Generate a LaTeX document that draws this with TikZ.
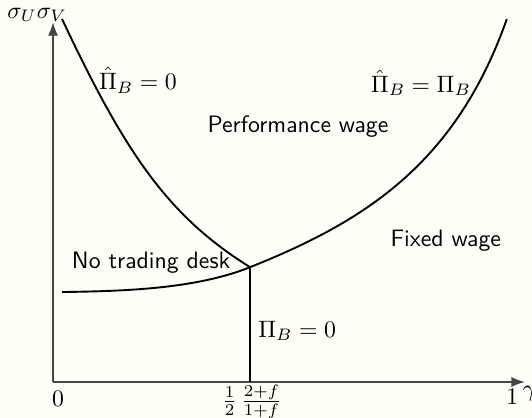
\documentclass[tikz,border=0pt]{standalone}
\usepackage{amsmath,amssymb}
\usepackage{tikz}
\usetikzlibrary{arrows.meta,calc,positioning}
\definecolor{PaperCream}{RGB}{254,254,247}
\definecolor{AxisGray}{RGB}{70,70,70}

\begin{document}
\begin{tikzpicture}[x=6.69cm,y=6.69cm,>=Latex,
    region/.style={font=\sffamily},
    curve/.style={thick,black}]
      \fill[PaperCream] (-0.1173,-0.0796) rectangle (1.0597,0.8451);
      \useasboundingbox (-0.1173,-0.0796) rectangle (1.0597,0.8451);
      \coordinate (O) at (0,0);
      \coordinate (ytip) at (0,0.796);
      \coordinate (xtip) at (1.044,0);
      \coordinate (kink) at (0.436,0.254);
      \coordinate (kinkfoot) at (0.436,0);
      \coordinate (topL) at (0.020,0.803);
      \coordinate (topR) at (1.004,0.803);
      \coordinate (startR) at (0.020,0.199);
      % axes
      \draw[->,semithick,AxisGray] (O)--(ytip);
      \draw[->,semithick,AxisGray] (O)--(xtip);
      \node (ylab) at (-0.035,0.812) {$\sigma_U\sigma_V$};
      \node (xlab) at (1.054,-0.025) {$\gamma$};
      \node (zero) at (0.011,-0.037) {$0$};
      \node (one) at (1.016,-0.032) {$1$};
      \node[anchor=north,inner sep=0pt] (half) at ($(kinkfoot)+(0.004,-0.006)$)
        {$\frac{1}{2}\,\frac{2+f}{1+f}$};
      % boundaries
      \draw[curve] (topL) .. controls (0.161,0.503) and (0.256,0.366) .. (kink);
      \draw[curve] (startR) .. controls (0.160,0.201) and (0.316,0.206) .. (kink)
        .. controls (0.686,0.354) and (0.890,0.480) .. (topR);
      \draw[curve] (kink)--(kinkfoot);
      % labels
      \node (hatzero) at (0.188,0.668) {$\hat{\Pi}_B=0$};
      \node (hateq) at (0.814,0.662) {$\hat{\Pi}_B=\Pi_B$};
      \node (pizero) at (0.540,0.113) {$\Pi_B=0$};
      \node[region] (perf) at (0.542,0.564) {Performance wage};
      \node[region] (fixed) at (0.869,0.312) {Fixed wage};
      \node[region] (nodesk) at (0.217,0.265) {No trading desk};
    \end{tikzpicture}
\end{document}
